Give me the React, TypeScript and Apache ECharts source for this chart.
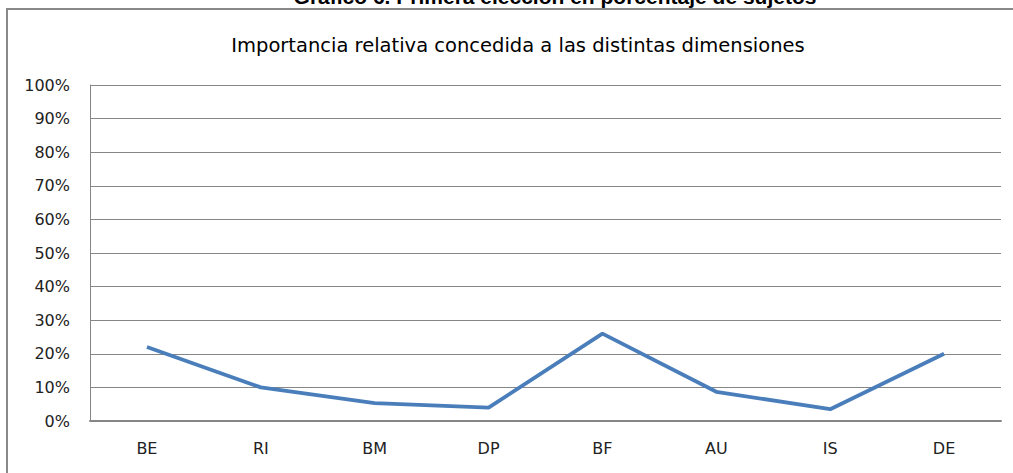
import React, { useEffect, useRef } from "react";
import * as echarts from "echarts";

const categories = ["BE", "RI", "BM", "DP", "BF", "AU", "IS", "DE"];
const values = [22, 10, 5.3, 4, 26, 8.7, 3.5, 20];
const mainTitle = "Gráfico 6. Primera elección en porcentaje de sujetos";
const subTitle = "Importancia relativa concedida a las distintas dimensiones";

const labelFont = "'DejaVu Sans', sans-serif";

export default function App() {
  const ref = useRef<HTMLDivElement>(null);
  useEffect(() => {
    const chart = echarts.init(ref.current!, null, { renderer: "svg" });
    chart.setOption({
      animation: false,
      backgroundColor: "#fff",
      grid: { left: 90, right: 12, top: 85, bottom: 52, containLabel: false },
      xAxis: {
        type: "category",
        data: categories,
        boundaryGap: true,
        axisLine: { show: true, lineStyle: { color: "#868686", width: 2 } },
        axisTick: { show: false },
        axisLabel: { color: "#222", fontSize: 16, margin: 19, fontFamily: labelFont },
      },
      yAxis: {
        type: "value",
        min: 0,
        max: 100,
        interval: 10,
        axisLine: { show: true, lineStyle: { color: "#868686", width: 1 } },
        axisTick: { show: false },
        splitLine: { show: true, lineStyle: { color: "#868686", width: 1 } },
        axisLabel: { color: "#222", fontSize: 16, margin: 20, formatter: "{value}%", fontFamily: labelFont },
      },
      series: [
        {
          type: "line",
          data: values,
          showSymbol: false,
          symbol: "none",
          lineStyle: { color: "#4a7ebb", width: 3.8 },
        },
      ],
      graphic: [
        {
          type: "rect",
          shape: { x: 7, y: 9, width: 1030, height: 500 },
          style: { fill: "none", stroke: "#888", lineWidth: 2 },
          silent: true,
        },
        {
          type: "text",
          x: 555,
          y: 7,
          style: {
            text: mainTitle,
            align: "center",
            verticalAlign: "bottom",
            font: "bold 21px 'Liberation Sans', Arial, sans-serif",
            fill: "#000",
          },
        },
        {
          type: "text",
          x: 518,
          y: 45,
          style: {
            text: subTitle,
            align: "center",
            verticalAlign: "middle",
            font: "19.5px 'DejaVu Sans', sans-serif",
            fill: "#000",
          },
        },
      ],
    });
    return () => chart.dispose();
  }, []);
  return (
    <div
      ref={ref}
      style={{ position: "fixed", left: 0, top: 0, width: 1013, height: 473 }}
    />
  );
}
